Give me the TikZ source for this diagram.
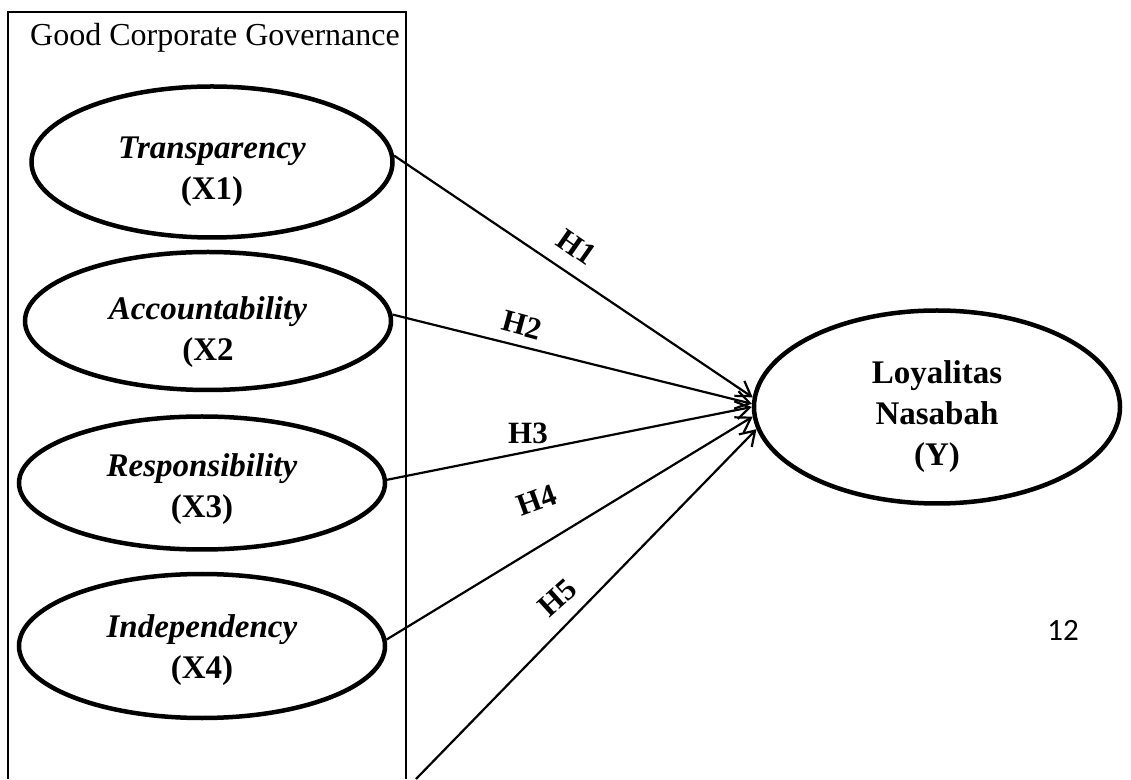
\documentclass[tikz,border=0pt]{standalone}
\usepackage{fontspec}
\setmainfont{Liberation Serif}
\newfontfamily\pagefont{Carlito}
\usetikzlibrary{arrows.meta,shapes.geometric}
\newcommand\vgap[1]{\rule{0pt}{#1pt}}
\tikzset{
  varbox/.style={ellipse,draw=black,line width=4.5pt,inner sep=0pt,align=center,font=\fontsize{33}{41}\selectfont\bfseries},
  arrow/.style={-{Straight Barb[length=14pt,width=18pt,line width=2.2pt]},line width=2.2pt},
  hyp/.style={font=\fontsize{31}{36}\selectfont\bfseries,inner sep=0pt}
}

\begin{document}
\begin{tikzpicture}[
        x=1pt,y=1pt,
        xbox/.style={varbox,minimum width=366pt,minimum height=#1},
        label/.style={font=\fontsize{32}{38}\selectfont,inner sep=0pt,anchor=west}
      ]
        \useasboundingbox (0,0) rectangle (1131,779);
        \draw[line width=1.8pt] (8,0) -- (8,767) -- (406,767) -- (406,0);
        \node[label] (gcg) at (30,741) {Good Corporate Governance};

        \node[xbox=151pt,minimum width=361pt] (x1) at (212,617) {\vgap{42}\textit{Transparency}\\(X1)};
        \node[xbox=138pt] (x2) at (208,458) {\vgap{46}\textit{Accountability}\\(X2};
        \node[xbox=133pt] (x3) at (202,296) {\vgap{36}\textit{Responsibility}\\(X3)};
        \node[xbox=144pt] (x4) at (202,133) {\vgap{32}\textit{Independency}\\(X4)};
        \coordinate (x5) at (416,0);

        \node[varbox,minimum width=366pt,minimum height=193pt] (y) at (937,372) {\vgap{42}Loyalitas\\Nasabah\\(Y)};

        \draw[arrow] (x1.2) -- (y.177);
        \draw[arrow] (x2.2) -- (y.179);
        \draw[arrow] (x3.1) -- (y.180);
        \draw[arrow] (x4.2) -- (y.183);
        \draw[arrow] (x5) -- (y.187);

        \node[hyp,rotate=-35] (h1) at (577,532) {H1};
        \node[hyp,rotate=-15] (h2) at (522,454) {H2};
        \node[hyp] (h3) at (528,346) {H3};
        \node[hyp,rotate=20] (h4) at (537,279) {H4};
        \node[hyp,rotate=42] (h5) at (558,181) {H5};

        \node[font=\pagefont\fontsize{31}{36}\selectfont] (pg) at (1063,149) {12};
      \end{tikzpicture}
\end{document}
